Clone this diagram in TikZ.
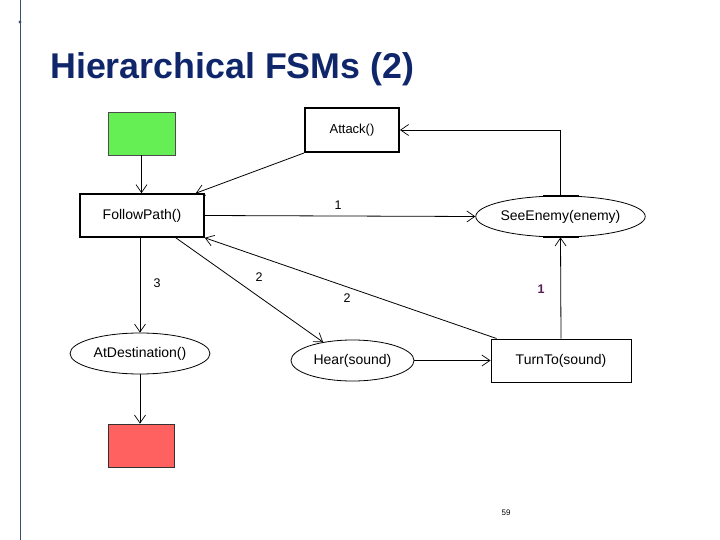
\documentclass[tikz,border=0pt]{standalone}
\usepackage{fontspec}
\setmainfont{Liberation Sans}
\usetikzlibrary{arrows.meta,shapes.geometric}
\definecolor{titleblue}{HTML}{10266A}
\definecolor{rulecol}{HTML}{3A4E70}
\definecolor{greenfill}{HTML}{66EE55}
\definecolor{redfill}{HTML}{FF6060}
\definecolor{labpurple}{HTML}{5A1A5A}
\tikzset{
  box/.style={draw=black, rectangle, inner sep=0pt, font=\fontsize{14}{16}\selectfont},
  oval/.style={draw=black, ellipse, inner sep=0pt, line width=0.8pt, font=\fontsize{14}{16}\selectfont},
  conn/.style={draw=black, line width=0.8pt, -{Straight Barb[length=8pt,width=11pt,line width=0.7pt]}},
  lab/.style={font=\fontsize{12.5}{14}\selectfont, inner sep=0pt}
}
\begin{document}
\begin{tikzpicture}[x=1pt,y=-1pt]
\useasboundingbox (0,0) rectangle (720,540);
% slide decoration
\draw[rulecol, line width=1pt] (20,0) -- (20,540);
\fill[rulecol] (20,22) circle (1.6pt);
\node[anchor=base west, inner sep=0pt, text=titleblue, font=\fontsize{35.8}{40}\selectfont\bfseries] (title) at (50,79) {Hierarchical FSMs (2)};
% nodes
\node[box, fill=greenfill, draw=black!70, line width=0.7pt, minimum width=67pt, minimum height=43pt] (start) at (141.5,133.5) {};
\node[box, line width=2pt, minimum width=94pt, minimum height=44pt, font=\fontsize{13}{15}\selectfont] (attack) at (352,130) {Attack()};
\node[box, line width=1.6pt, minimum width=124pt, minimum height=43pt] (follow) at (142,215.5) {FollowPath()};
\node[oval, minimum width=165pt, minimum height=41pt] (see) at (560.5,216.5) {SeeEnemy(enemy)};
\node[oval, minimum width=140pt, minimum height=41pt] (atdest) at (140,353.5) {AtDestination()};
\node[box, fill=redfill, draw=black!80, line width=0.7pt, minimum width=66pt, minimum height=43pt] (stop) at (141,445.5) {};
\node[oval, minimum width=123pt, minimum height=41pt] (hear) at (352.5,360.5) {Hear(sound)};
\node[box, line width=1pt, minimum width=140pt, minimum height=43pt] (turn) at (561,360.5) {TurnTo(sound)};
% thick arcs on SeeEnemy
\draw[line width=2pt] ([xshift=-18pt]see.north) -- ([xshift=18pt]see.north);
\draw[line width=2pt] ([xshift=-18pt]see.south) -- ([xshift=18pt]see.south);
% connectors
\draw[conn, line width=1.6pt] (start.south) -- (start.south |- follow.north);
\draw[conn] (attack.south west) -- ([xshift=-9pt]follow.north east);
\draw[conn] (see.north) |- (attack.east);
\draw[conn] (follow.east) -- (see.west);
\draw[conn] (follow.south -| atdest.north) -- (atdest.north);
\draw[conn] (atdest.south) -- (atdest.south |- stop.north);
\draw[conn] ([xshift=-29pt]follow.south east) -- (hear.148);
\draw[conn] ([xshift=6pt]turn.north west) -- (follow.south east);
\draw[conn] (hear.east) -- (turn.west);
\draw[conn] (turn.north) -- (see.south);
% labels
\node[lab] (l1) at (338,205) {1};
\node[lab] (l3) at (157,283) {3};
\node[lab] (l2a) at (259,277) {2};
\node[lab] (l2b) at (347,298) {2};
\node[lab, text=labpurple, font=\fontsize{12.5}{14}\selectfont\bfseries] (l1b) at (541,289) {1};
\node[inner sep=0pt, font=\fontsize{8}{9}\selectfont] (page) at (506,513) {59};
\end{tikzpicture}
\end{document}
